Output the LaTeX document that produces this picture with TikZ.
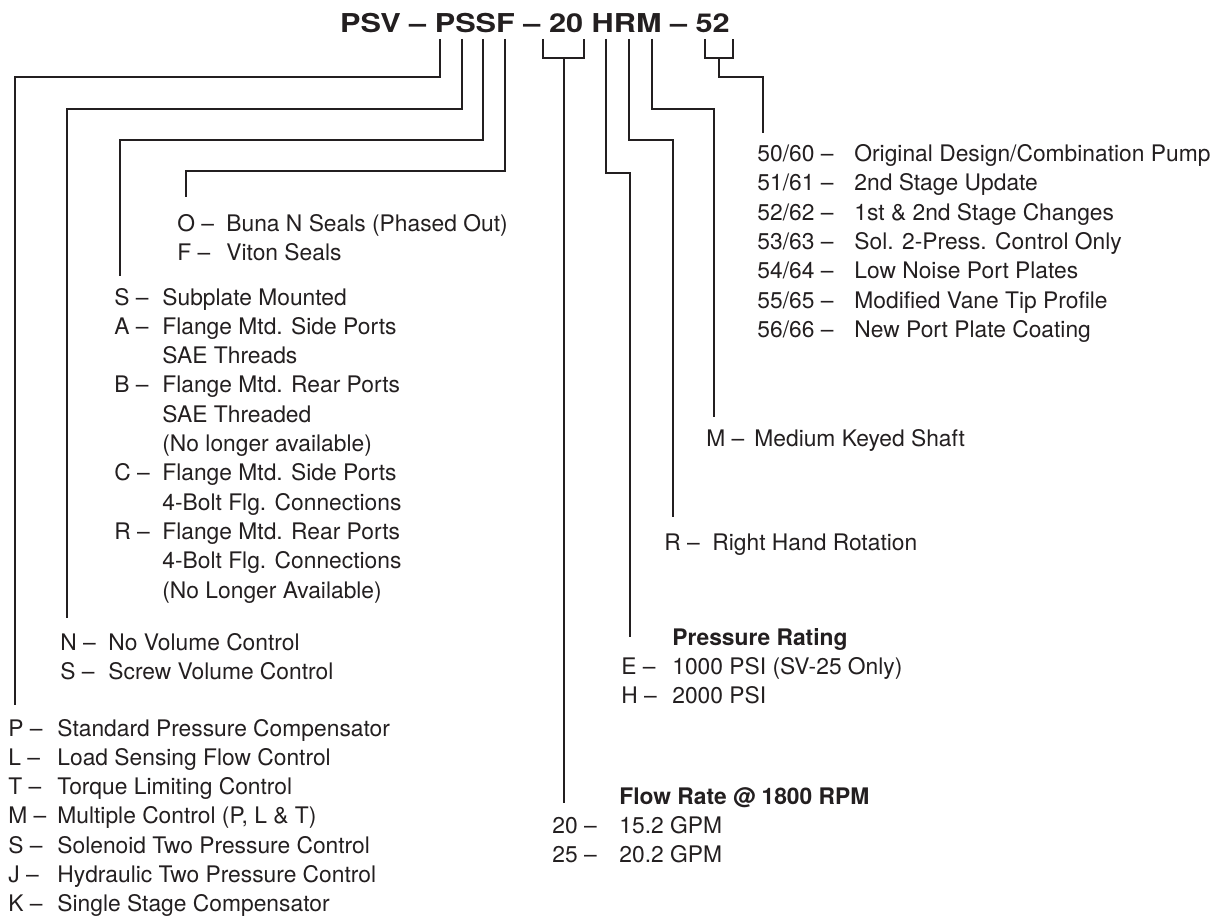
\documentclass[tikz,border=0pt]{standalone}
\usepackage{fontspec}
\setmainfont{TeX Gyre Heros}
\usepackage{xcolor}
\usepackage{tikz}

\definecolor{ink}{RGB}{35,31,32}
\newcommand{\codelist}[2]{\begin{tabular}[t]{@{}p{#1}@{}l@{}}#2\end{tabular}}

\begin{document}
\begin{tikzpicture}[x=0.5pt, y=-0.5pt,
    lead/.style={draw=ink, line width=1.4pt},
    title/.style={anchor=base, inner sep=0pt, text=ink},
    opts/.style={anchor=base west, inner sep=0pt, text=ink, font=\fontsize{11.4}{14.65}\selectfont}]
        \useasboundingbox (0,0) rectangle (1224,915);

        % Model code
        \node[title] (code) at (535,33)
            {\scalebox{1.18}[1]{\fontsize{13}{15}\selectfont\bfseries PSV -- PSSF -- 20 HRM -- 52}};
        \coordinate (tP) at (440,39);
        \coordinate (tS) at (462,39);
        \coordinate (tM) at (483,39);
        \coordinate (tF) at (505,39);
        \coordinate (t20a) at (543,39);
        \coordinate (t20b) at (584,39);
        \coordinate (b20) at (564,58);
        \coordinate (tH) at (606,39);
        \coordinate (tR) at (629,39);
        \coordinate (tK) at (652,39);
        \coordinate (t52a) at (705,39);
        \coordinate (t52b) at (733,39);
        \coordinate (b52) at (719,58);

        % Option lists
        \node[opts] (ctrl) at (8,736) {\codelist{24.5pt}{%
            P --& Standard Pressure Compensator\\
            L --& Load Sensing Flow Control\\
            T --& Torque Limiting Control\\
            M --& Multiple Control (P, L \& T)\\
            S --& Solenoid Two Pressure Control\\
            J --& Hydraulic Two Pressure Control\\
            K --& Single Stage Compensator}};
        \node[opts] (vol) at (60,650) {\codelist{24pt}{%
            N --& No Volume Control\\
            S --& Screw Volume Control}};
        \node[opts] (mount) at (114,305) {\codelist{24pt}{%
            S --& Subplate Mounted\\
            A --& Flange Mtd. Side Ports\\
                & SAE Threads\\
            B --& Flange Mtd. Rear Ports\\
                & SAE Threaded\\
                & (No longer available)\\
            C --& Flange Mtd. Side Ports\\
                & 4-Bolt Flg. Connections\\
            R --& Flange Mtd. Rear Ports\\
                & 4-Bolt Flg. Connections\\
                & (No Longer Available)}};
        \node[opts] (seal) at (177,231) {\codelist{24.5pt}{%
            O --& Buna N Seals (Phased Out)\\
            F --& Viton Seals}};
        \node[opts] (flow) at (552,804) {\codelist{33.5pt}{%
                 & \textbf{Flow Rate @ 1800 RPM}\\
            20 --& 15.2 GPM\\
            25 --& 20.2 GPM}};
        \node[opts] (press) at (621,645) {\codelist{25.5pt}{%
                & \textbf{Pressure Rating}\\
            E --& 1000 PSI (SV-25 Only)\\
            H --& 2000 PSI}};
        \node[opts] (rot) at (664,550) {\codelist{24pt}{%
            R --& Right Hand Rotation}};
        \node[opts] (shaft) at (706,446) {\codelist{24pt}{%
            M --& Medium Keyed Shaft}};
        \node[opts] (design) at (757,161.5) {\codelist{48.5pt}{%
            50/60 --& Original Design/Combination Pump\\
            51/61 --& 2nd Stage Update\\
            52/62 --& 1st \& 2nd Stage Changes\\
            53/63 --& Sol. 2-Press. Control Only\\
            54/64 --& Low Noise Port Plates\\
            55/65 --& Modified Vane Tip Profile\\
            56/66 --& New Port Plate Coating}};

        % Leader lines
        \coordinate (eP) at (15,705);
        \coordinate (eS) at (67,618);
        \coordinate (eM) at (120,276);
        \coordinate (eF) at (186,197);
        \coordinate (e20) at (564,803);
        \coordinate (eH) at (630,637);
        \coordinate (eR) at (673,517);
        \coordinate (eK) at (714,417);
        \coordinate (e52) at (763,133);
        \draw[lead] (tP) -- ++(0,38) -| (eP);
        \draw[lead] (tS) -- ++(0,70) -| (eS);
        \draw[lead] (tM) -- ++(0,101) -| (eM);
        \draw[lead] (tF) -- ++(0,132) -| (eF);
        \draw[lead] (t20a) |- (b20) -| (t20b);
        \draw[lead] (b20) -- (e20);
        \draw[lead] (tH) -- ++(0,134) -| (eH);
        \draw[lead] (tR) -- ++(0,101) -| (eR);
        \draw[lead] (tK) -- ++(0,70) -| (eK);
        \draw[lead] (t52a) |- (b52) -| (t52b);
        \draw[lead] (b52) -- ++(0,19) -| (e52);
    \end{tikzpicture}
\end{document}
